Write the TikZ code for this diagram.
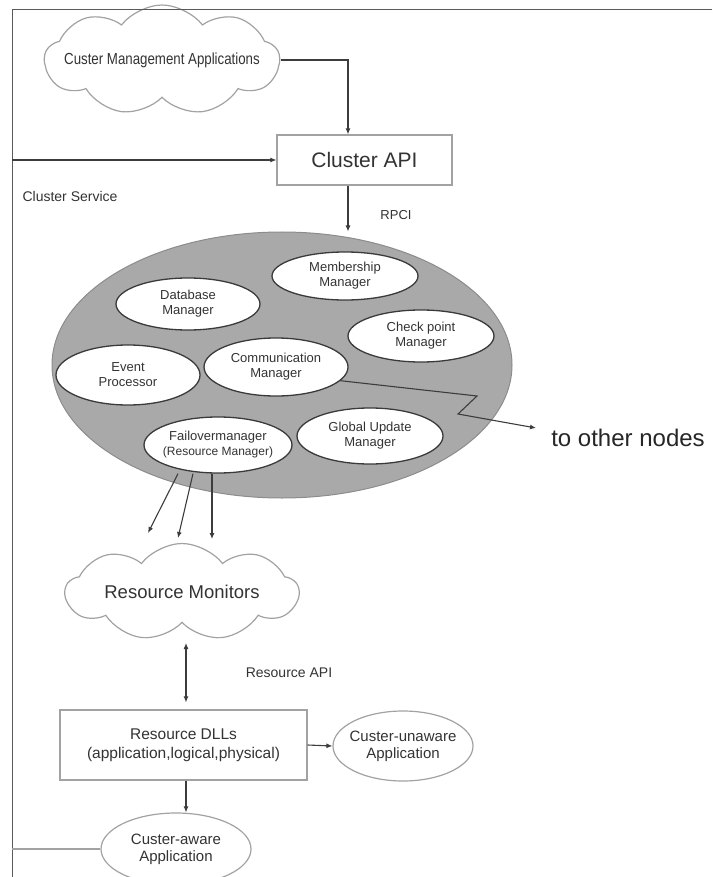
\documentclass[tikz,border=0pt]{standalone}
\usepackage{fontspec}
\usepackage{graphicx}
\setmainfont{Liberation Sans}
\usetikzlibrary{shapes.geometric,shapes.symbols,arrows.meta,calc}

\definecolor{inkc}{HTML}{333333}
\definecolor{framec}{HTML}{5A5A5A}
\definecolor{softc}{HTML}{A2A2A2}
\definecolor{arrowc}{HTML}{3C3C3C}
\definecolor{corec}{HTML}{A9A9A9}
\definecolor{coreline}{HTML}{8C8C8C}
\definecolor{mgrline}{HTML}{3A3A3A}

\begin{document}
\begin{tikzpicture}[x=1pt,y=-1pt,
  every node/.style={text=inkc},
  f13/.style={font=\fontsize{13}{15}\selectfont},
  f14/.style={font=\fontsize{14}{16}\selectfont},
  f15/.style={font=\fontsize{15}{17}\selectfont},
  f155/.style={font=\fontsize{15.5}{19}\selectfont},
  f185/.style={font=\fontsize{18.5}{21}\selectfont},
  f21/.style={font=\fontsize{21}{24}\selectfont},
  f24/.style={font=\fontsize{24}{27}\selectfont},
  tip/.tip={Latex[length=6pt,width=5pt]},
  arr/.style={draw=arrowc, line width=1.1pt, -tip},
  darr/.style={draw=arrowc, line width=1.1pt, tip-tip},
  plain/.style={draw=framec, line width=1pt},
  puff/.style={cloud, cloud puffs=9, cloud puff arc=105, cloud ignores aspect,
    draw=softc, fill=white, line width=1.2pt, inner sep=0pt},
  box/.style={rectangle, draw=softc, fill=white, line width=1.2pt, inner sep=0pt, align=center},
  app/.style={ellipse, draw=softc, fill=white, line width=1.2pt, inner sep=0pt},
  mgr/.style={ellipse, draw=mgrline, fill=white, line width=1.3pt, inner sep=0pt},
  mtext/.style={f13, align=center, inner sep=0pt},
  atext/.style={f15, align=center, inner sep=0pt}
]
\useasboundingbox (0,0) rectangle (712,877);

% management cloud and cluster API
\node[puff, minimum width=235pt, minimum height=110pt,
  label={[inner sep=0pt, font=\fontsize{16}{18}\selectfont]center:\scalebox{0.83}[1]{Custer Management Applications}}]
  (cma) at (162,60) {};

% outer frame of the cluster service
\coordinate (lt) at (12,10);
\coordinate (lb) at (12,877);
\coordinate (rt) at (712,10);
\draw[plain] (rt) -- (lt) -- (lb);

\node[box, f21, minimum width=175pt, minimum height=50pt] (capi) at (364.5,160) {Cluster API};
\node[f14] (svc) at (70,196) {Cluster Service};
\node[f13] (rpci) at (396,215) {RPCI};

\draw[arr] (cma.east) -| ([xshift=-16.5pt]capi.north);
\draw[arr] (capi.west -| lt) -- (capi.west);

% cluster service core with its managers
\node[ellipse, fill=corec, draw=coreline, line width=1pt, minimum width=460pt, minimum height=266pt]
  (core) at (282,365) {};
\draw[arr] ([xshift=-16.5pt]capi.south) -- ([xshift=-16.5pt]capi.south |- core.north);

\node[mgr, minimum width=144pt, minimum height=52pt, label={[mtext]center:Database\\Manager}] (db) at (188,304) {};
\node[mgr, minimum width=146pt, minimum height=48pt, label={[mtext]center:Membership\\Manager}] (mem) at (345,276) {};
\node[mgr, minimum width=146pt, minimum height=52pt, label={[mtext]center:Check point\\Manager}] (chk) at (421,336) {};
\node[mgr, minimum width=144pt, minimum height=60pt, label={[mtext]center:Event\\Processor}] (evt) at (128,375) {};
\node[mgr, minimum width=144pt, minimum height=58pt, label={[mtext]center:Communication\\Manager}] (com) at (276,367) {};
\node[mgr, minimum width=146pt, minimum height=56pt, label={[mtext]center:Global Update\\Manager}] (glob) at (370,436) {};
\node[mgr, minimum width=148pt, minimum height=56pt,
  label={[mtext]center:Failovermanager\\{\fontsize{12}{14}\selectfont(Resource Manager)}}] (fail) at (218,445) {};

% link to the other cluster nodes
\node[f24, text=black!85] (oth) at (628,438) {to other nodes};
\coordinate (othtip) at (536,428);
\draw[draw=arrowc, line width=1.1pt, -tip] (com.-12) -- (477,396) -- (458,414) -- (othtip);

% failover manager to resource monitors
\coordinate (m1) at (148,533);
\coordinate (m2) at (178,538);
\coordinate (m3) at (212,539);
\draw[arr] ([xshift=-40pt]fail.south) -- (m1);
\draw[arr] ([xshift=-25pt]fail.south) -- (m2);
\draw[arr] ([xshift=-6pt]fail.south) -- (m3);

\node[puff, minimum width=233pt, minimum height=97pt,
  label={[inner sep=0pt, f185]center:Resource Monitors}] (rm) at (182,592) {};

% resource layer
\node[box, f155, minimum width=247pt, minimum height=70pt] (dll) at (183.5,745)
  {Resource DLLs\\(application,logical,physical)};
\node[f14] (rapi) at (289,673) {Resource API};
\coordinate (rmfoot) at (186,643);
\draw[darr, shorten <=7pt] ([xshift=2.5pt]dll.north) -- (rmfoot);

\node[app, minimum width=140pt, minimum height=70pt,
  label={[atext]center:Custer-unaware\\Application}] (unaw) at (403,746) {};
\node[app, minimum width=150pt, minimum height=72pt,
  label={[atext]center:Custer-aware\\Application}] (aw) at (176,849) {};

\draw[arr] (dll.east) -- (unaw.west);
\draw[arr] ([xshift=2.5pt]dll.south) -- ([xshift=2.5pt]dll.south |- aw.north);
\draw[draw=softc, line width=1.2pt] (aw.west) -- (aw.west -| lt);
\end{tikzpicture}
\end{document}
